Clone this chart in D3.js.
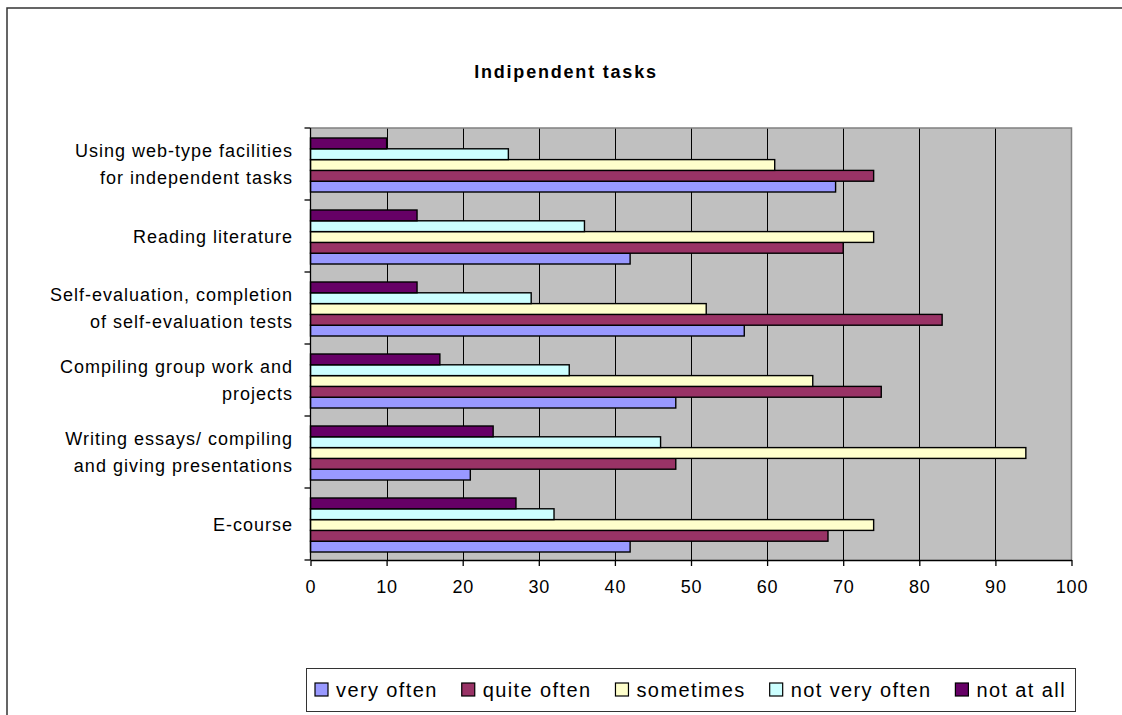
<!DOCTYPE html>
<html>
<head>
<meta charset="utf-8">
<script src="https://cdn.jsdelivr.net/npm/d3@7/dist/d3.min.js"></script>
<style>
  html, body { margin: 0; padding: 0; background: #fff; }
  svg { display: block; font-family: "Liberation Sans", Arial, sans-serif; }
</style>
</head>
<body>
<svg id="chart" width="1122" height="715"></svg>
<script>
// Survey answers (% of respondents) per kind of independent task
const title = "Indipendent tasks";
const categories = [
  "Using web-type facilities\nfor independent tasks",
  "Reading literature",
  "Self-evaluation, completion\nof self-evaluation tests",
  "Compiling group work and\nprojects",
  "Writing essays/ compiling\nand giving presentations",
  "E-course"
];
const seriesNames = ["very often", "quite often", "sometimes", "not very often", "not at all"];
const seriesColors = ["#9999FF", "#993366", "#FFFFCC", "#CCFFFF", "#660066"];
const veryOften    = [69, 42, 57, 48, 21, 42];
const quiteOften   = [74, 70, 83, 75, 48, 68];
const sometimes    = [61, 74, 52, 66, 94, 74];
const notVeryOften = [26, 36, 29, 34, 46, 32];
const notAtAll     = [10, 14, 14, 17, 24, 27];
const xTicks = [0, 10, 20, 30, 40, 50, 60, 70, 80, 90, 100];

const seriesValues = [veryOften, quiteOften, sometimes, notVeryOften, notAtAll];

const svg = d3.select("#chart");
const W = 1122, H = 715;
const plot = { left: 310.5, right: 1071.5, top: 128, bottom: 560 };

svg.append("rect").attr("width", W).attr("height", H).attr("fill", "#fff");

// Outer chart frame (left and top edges)
svg.append("path")
  .attr("d", `M7,${H} L7,8 L${W},8`)
  .attr("fill", "none").attr("stroke", "#333").attr("stroke-width", 1.5);

// Title
svg.append("text")
  .attr("x", 566).attr("y", 78)
  .attr("text-anchor", "middle")
  .attr("font-size", 18).attr("font-weight", "bold")
  .attr("letter-spacing", 1.8)
  .text(title);

const x = d3.scaleLinear().domain([0, 100]).range([plot.left, plot.right]);
const y = d3.scaleBand().domain(categories).range([plot.top, plot.bottom]).padding(0);
// top-to-bottom order inside each group: last series on top
const sub = d3.scaleBand()
  .domain(d3.range(seriesNames.length).reverse())
  .range([10, 64]).padding(0);

// Plot area background
svg.append("rect")
  .attr("x", plot.left).attr("y", plot.top)
  .attr("width", plot.right - plot.left).attr("height", plot.bottom - plot.top)
  .attr("fill", "#C0C0C0");

// Vertical gridlines
svg.append("g").selectAll("line")
  .data(xTicks.filter(t => t > 0 && t < 100))
  .join("line")
  .attr("x1", d => Math.round(x(d)) + 0.5).attr("x2", d => Math.round(x(d)) + 0.5)
  .attr("y1", plot.top).attr("y2", plot.bottom)
  .attr("stroke", "#000").attr("stroke-width", 1);

// Plot border (top and right)
svg.append("path")
  .attr("d", `M${plot.left},${plot.top} L${plot.right},${plot.top} L${plot.right},${plot.bottom}`)
  .attr("fill", "none").attr("stroke", "#808080").attr("stroke-width", 1.5);

// Bars
const rows = [];
categories.forEach((c, ci) => {
  seriesValues.forEach((vals, si) => rows.push({ c, si, v: vals[ci] }));
});
svg.append("g").selectAll("rect")
  .data(rows)
  .join("rect")
  .attr("x", x(0))
  .attr("y", d => y(d.c) + sub(d.si))
  .attr("width", d => x(d.v) - x(0))
  .attr("height", sub.bandwidth())
  .attr("fill", d => seriesColors[d.si])
  .attr("stroke", "#000").attr("stroke-width", 1.4);

// X axis
const xAxis = svg.append("g")
  .attr("transform", `translate(0,${plot.bottom})`)
  .call(d3.axisBottom(x).tickValues(xTicks).tickSize(6).tickSizeOuter(0).tickPadding(14));
xAxis.select(".domain").attr("stroke", "#000").attr("stroke-width", 1.3);
xAxis.selectAll(".tick line").attr("stroke", "#000").attr("stroke-width", 1.3);
xAxis.selectAll(".tick text")
  .attr("font-size", 18).attr("font-family", "Liberation Sans, Arial, sans-serif")
  .attr("letter-spacing", 0.8)
  .attr("fill", "#000");

// Y axis: line with ticks at category boundaries
const yAxisG = svg.append("g");
yAxisG.append("line")
  .attr("x1", plot.left).attr("x2", plot.left)
  .attr("y1", plot.top).attr("y2", plot.bottom)
  .attr("stroke", "#000").attr("stroke-width", 1.3);
const boundaries = categories.map(c => y(c)).concat([plot.bottom]);
yAxisG.selectAll(".bt").data(boundaries).join("line")
  .attr("x1", plot.left - 6).attr("x2", plot.left)
  .attr("y1", d => d).attr("y2", d => d)
  .attr("stroke", "#000").attr("stroke-width", 1.3);

// Category labels
const lineH = 27.5;
yAxisG.selectAll(".cl").data(categories).join("text")
  .attr("text-anchor", "end")
  .attr("font-size", 18)
  .attr("letter-spacing", 1)
  .each(function (c) {
    const lines = c.split("\n");
    const cy = y(c) + y.bandwidth() / 2;
    const t = d3.select(this);
    lines.forEach((ln, i) => {
      t.append("tspan")
        .attr("x", 293)
        .attr("y", cy + (i - (lines.length - 1) / 2) * lineH + 6.5)
        .text(ln);
    });
  });

// Legend
const legend = { left: 306, right: 1075, top: 668, bottom: 711 };
svg.append("rect")
  .attr("x", legend.left + 0.5).attr("y", legend.top + 0.5)
  .attr("width", legend.right - legend.left).attr("height", legend.bottom - legend.top)
  .attr("fill", "#fff").attr("stroke", "#333").attr("stroke-width", 1);

const lg = svg.append("g");
const items = lg.selectAll("g").data(seriesNames).join("g");
const sw = 13, swGap = 8;
items.append("rect")
  .attr("width", sw).attr("height", sw)
  .attr("y", 683)
  .attr("fill", (d, i) => seriesColors[i])
  .attr("stroke", "#000").attr("stroke-width", 1.2);
items.append("text")
  .attr("y", 697).attr("font-size", 20).attr("letter-spacing", 1.4)
  .text(d => d);
const widths = [];
items.selectAll("text").each(function () { widths.push(this.getComputedTextLength()); });
const startX = 315, endX = 1066;
const used = d3.sum(widths) + seriesNames.length * (sw + swGap);
const gap = (endX - startX - used) / (seriesNames.length - 1);
let cx = startX;
items.each(function (d, i) {
  const g = d3.select(this);
  g.select("rect").attr("x", cx);
  g.select("text").attr("x", cx + sw + swGap);
  cx += sw + swGap + widths[i] + gap;
});
</script>
</body>
</html>
